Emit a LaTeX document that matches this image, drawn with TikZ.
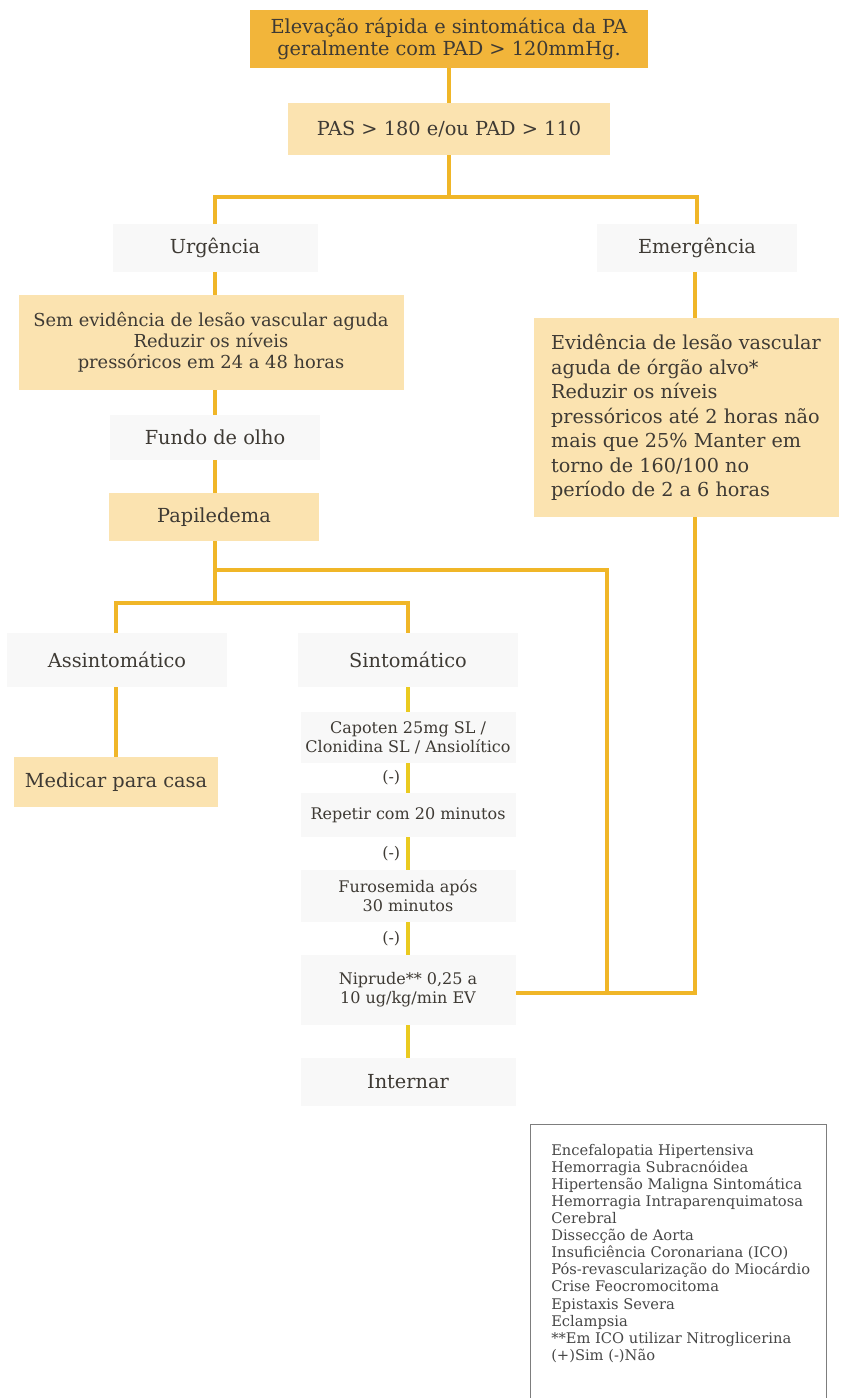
\documentclass[tikz,border=0pt]{standalone}
\usepackage{fontspec}
\setmainfont{DejaVu Serif}
\definecolor{goldbox}{RGB}{242,181,58}
\definecolor{lightbox}{RGB}{251,227,176}
\definecolor{faintbox}{RGB}{248,248,248}
\definecolor{connline}{RGB}{240,182,40}
\definecolor{stepbar}{RGB}{234,202,32}
\definecolor{inkdark}{RGB}{62,58,52}
\definecolor{leginks}{RGB}{70,70,70}
\definecolor{legframe}{RGB}{125,125,125}
\newcommand\szBig{\fontsize{14.5pt}{16.5pt}\selectfont}
\newcommand\szMid{\fontsize{13.4pt}{15.6pt}\selectfont}
\newcommand\szEmer{\fontsize{14.4pt}{18.4pt}\selectfont}
\newcommand\szSmall{\fontsize{12pt}{14pt}\selectfont}
\newcommand\szLegend{\fontsize{11pt}{12.8pt}\selectfont}
\tikzset{
  box/.style={rectangle, inner sep=0pt, align=center, text=inkdark},
  darkbox/.style={box, fill=goldbox, font=\szBig},
  pale/.style={box, fill=lightbox, font=\szBig},
  palemid/.style={box, fill=lightbox, font=\szMid},
  tag/.style={box, fill=faintbox, font=\szBig},
  smallstep/.style={box, fill=faintbox, font=\szSmall},
  conn/.style={draw=connline, line width=3.7pt},
  barconn/.style={draw=stepbar, line width=3.7pt},
  negtag/.style={font=\szSmall, text=inkdark, inner sep=0pt}
}
\begin{document}
\begin{tikzpicture}[x=0.75pt, y=-0.75pt]
\useasboundingbox (0,0) rectangle (840,1398);

% ---- top of the flow
\node[darkbox, minimum width=298.5pt, minimum height=43.5pt] (top) at (449,39)
  {Elevação rápida e sintomática da PA\\geralmente com PAD > 120mmHg.};
\node[pale, minimum width=241.5pt, minimum height=39pt] (pas) at (449,129)
  {PAS > 180 e/ou PAD > 110};

% ---- the two branches
\node[tag, minimum width=153.75pt, minimum height=35.25pt] (urg) at (215,248) {Urgência};
\node[tag, minimum width=150pt, minimum height=35.25pt] (emer) at (697,248) {Emergência};

\node[palemid, minimum width=288.75pt, minimum height=71.25pt] (sem) at (211,342.5)
  {Sem evidência de lesão vascular aguda\\Reduzir os níveis\\pressóricos em 24 a 48 horas};
\node[pale, font=\szEmer, align=left, minimum width=228.75pt, minimum height=149.25pt] (emerbox) at (686,417.5)
  {Evidência de lesão vascular\\aguda de órgão alvo*\\Reduzir os níveis\\pressóricos até 2 horas não\\mais que 25\% Manter em\\torno de 160/100 no\\período de 2 a 6 horas};

\node[tag, minimum width=157.5pt, minimum height=33.75pt] (fundo) at (215,437.5) {Fundo de olho};
\node[pale, minimum width=157.5pt, minimum height=36pt] (pap) at (214,517) {Papiledema};

\node[tag, minimum width=165pt, minimum height=40.5pt] (assint) at (117,660) {Assintomático};
\node[tag, minimum width=165pt, minimum height=40.5pt] (sint) at (408,660) {Sintomático};
\node[pale, minimum width=153pt, minimum height=37.5pt] (med) at (116,782) {Medicar para casa};

% ---- symptomatic sequence
\node[smallstep, minimum width=161.25pt, minimum height=38.25pt] (cap) at (408,737.5)
  {Capoten 25mg SL /\\Clonidina SL / Ansiolítico};
\node[smallstep, minimum width=161.25pt, minimum height=33pt] (rep) at (408,815)
  {Repetir com 20 minutos};
\node[smallstep, minimum width=161.25pt, minimum height=39pt] (furo) at (408,896)
  {Furosemida após\\30 minutos};
\node[smallstep, minimum width=161.25pt, minimum height=52.5pt] (nip) at (408,990)
  {Niprude** 0,25 a\\10 ug/kg/min EV};
\node[tag, minimum width=161.25pt, minimum height=36pt] (intern) at (408,1082) {Internar};

% ---- junction points
\coordinate (jA) at (449,197);
\coordinate (jP) at (215,570);
\coordinate (jPR) at (607,570);
\coordinate (jS) at (215,603);
\coordinate (jB) at (607,993);
\coordinate (jE) at (695,993);

% ---- connectors
\draw[conn] (top.south) -- (pas.north);
\draw[conn] (pas.south) -- (jA);
\draw[conn] (urg.north) -- (urg.north |- jA) -- (jA -| emer.north) -- (emer.north);
\draw[conn] (urg.south) -- (sem.north -| urg.south);
\draw[conn] (emer.south -| jE) -- (emerbox.north -| jE);
\draw[conn] (sem.south -| urg.south) -- (fundo.north);
\draw[conn] (fundo.south) -- (pap.north -| fundo.south);
\draw[conn] (pap.south -| fundo.south) -- (jS);
\draw[conn] (jP) -- (jPR) -- (jB);
\draw[conn] (assint.north -| med.north) -- (jS -| med.north) -- (jS -| sint.north) -- (sint.north);
\draw[conn] (assint.south -| med.north) -- (med.north);
\draw[conn] (emerbox.south -| jE) -- (jE) -- (nip.east |- jE);

\draw[barconn] (sint.south) -- (cap.north);
\draw[barconn] (cap.south) -- (rep.north) node[negtag, midway, left=4pt] (neg1) {(-)};
\draw[barconn] (rep.south) -- (furo.north) node[negtag, midway, left=4pt] (neg2) {(-)};
\draw[barconn] (furo.south) -- (nip.north) node[negtag, midway, left=4pt] (neg3) {(-)};
\draw[barconn] (nip.south) -- (intern.north);

% ---- legend of target-organ conditions
\node[draw=legframe, line width=0.9pt, minimum width=222pt, minimum height=210pt, anchor=north west, inner sep=0pt] (legbox) at (530,1124) {};
\node[anchor=north west, align=left, font=\szLegend, text=leginks, inner sep=0pt] (legtext) at (551,1144)
  {Encefalopatia Hipertensiva\\Hemorragia Subracnóidea\\Hipertensão Maligna Sintomática\\Hemorragia Intraparenquimatosa\\Cerebral\\Dissecção de Aorta\\Insuficiência Coronariana (ICO)\\Pós-revascularização do Miocárdio\\Crise Feocromocitoma\\Epistaxis Severa\\Eclampsia\\**Em ICO utilizar Nitroglicerina\\(+)Sim (-)Não};
\end{tikzpicture}
\end{document}
